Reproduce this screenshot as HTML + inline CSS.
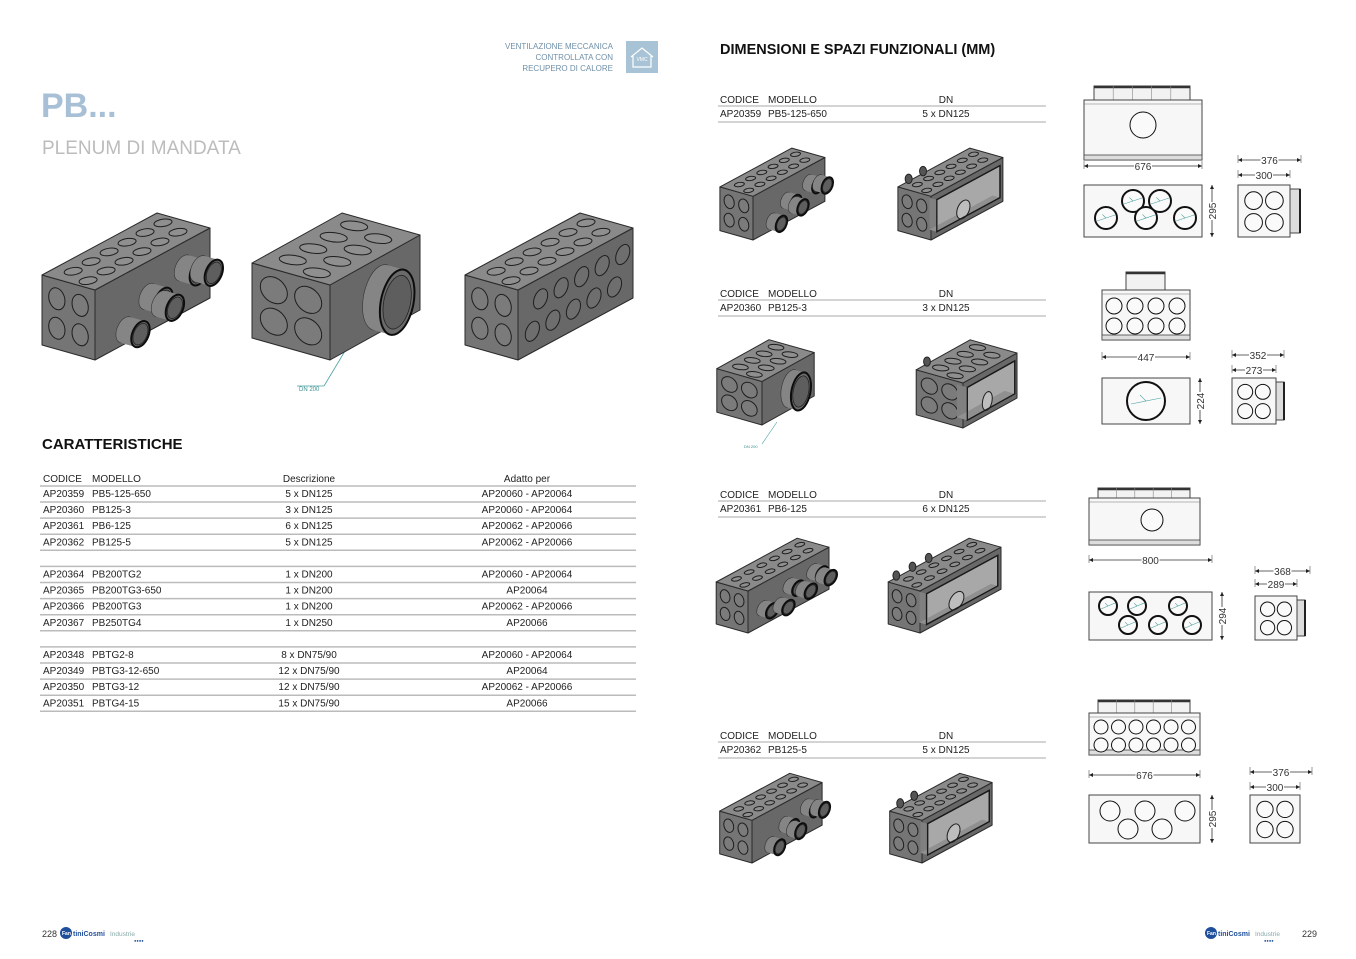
<!DOCTYPE html>
<html><head><meta charset="utf-8">
<style>
html,body{margin:0;padding:0;background:#fff;}
svg{display:block;font-family:"Liberation Sans",Arial,sans-serif;}
</style></head>
<body>
<svg id="s" xmlns="http://www.w3.org/2000/svg" width="1356" height="959" viewBox="0 0 1356 959">
<rect width="1356" height="959" fill="#fff"/>
<g fill="#6f90a8" font-size="8" text-anchor="end">
<text x="613" y="49">VENTILAZIONE  MECCANICA</text>
<text x="613" y="60">CONTROLLATA CON</text>
<text x="613" y="71">RECUPERO DI CALORE</text>
</g>
<rect x="626" y="41" width="32" height="32" fill="#a9c3d6"/>
<path d="M631 57 L642 48 L653 57 M633 56 V67 H651 V56" fill="none" stroke="#fff" stroke-width="1.2"/>
<text x="642" y="61" font-size="5" fill="#fff" text-anchor="middle">VMC</text>
<text x="41" y="117" font-size="34" font-weight="bold" fill="#a8c0d6">PB...</text>
<text x="42" y="154" font-size="19" fill="#bcbcbc">PLENUM DI MANDATA</text>
<text x="42" y="449" font-size="15" font-weight="bold" fill="#111">CARATTERISTICHE</text>
<text x="720" y="54" font-size="14.5" font-weight="bold" fill="#111">DIMENSIONI E SPAZI FUNZIONALI (MM)</text>
<line x1="348" y1="346" x2="324" y2="386" stroke="#4aa0a0" stroke-width="0.8"/>
<line x1="297" y1="386" x2="324" y2="386" stroke="#4aa0a0" stroke-width="0.8"/>
<text x="299" y="391" font-size="6" fill="#3a8f8f">DN 200</text>
<line x1="777" y1="422" x2="762" y2="444" stroke="#4aa0a0" stroke-width="0.6"/>
<text x="744" y="448" font-size="4" fill="#3a8f8f">DN 200</text>
<g id="tables" font-size="10" fill="#222"></g>
<g id="boxes"></g>
<g id="draw"></g>
<text x="42" y="937" font-size="9" fill="#333">228</text>
<text x="1302" y="937" font-size="9" fill="#333">229</text>
<g>
<circle cx="66" cy="933" r="6" fill="#1f4f9a"/><text x="62" y="935" font-size="5" fill="#fff" font-weight="bold">Fan</text>
<text x="73" y="936" font-size="7" font-weight="bold" fill="#1f4f9a">tiniCosmi</text><text x="110" y="936" font-size="6.5" fill="#8aa">Industrie</text>
<text x="134" y="942" font-size="4" fill="#1f4f9a">●●●●</text>
<circle cx="1211" cy="933" r="6" fill="#1f4f9a"/><text x="1207" y="935" font-size="5" fill="#fff" font-weight="bold">Fan</text>
<text x="1218" y="936" font-size="7" font-weight="bold" fill="#1f4f9a">tiniCosmi</text><text x="1255" y="936" font-size="6.5" fill="#8aa">Industrie</text>
<text x="1264" y="942" font-size="4" fill="#1f4f9a">●●●●</text>
</g>
</svg>
<script>
const NS="http://www.w3.org/2000/svg";
function el(p,t,a,txt){const e=document.createElementNS(NS,t);for(const k in a)e.setAttribute(k,a[k]);if(txt!==undefined)e.textContent=txt;p.appendChild(e);return e;}
const T=document.getElementById('tables');
function txt(x,y,s,anchor){el(T,'text',{x:x,y:y,'text-anchor':anchor||'start'},s);}
txt(43,482,'CODICE');txt(92,482,'MODELLO');txt(309,482,'Descrizione','middle');txt(527,482,'Adatto per','middle');
const rows=[["AP20359","PB5-125-650","5 x DN125","AP20060 - AP20064"],["AP20360","PB125-3","3 x DN125","AP20060 - AP20064"],["AP20361","PB6-125","6 x DN125","AP20062 - AP20066"],["AP20362","PB125-5","5 x DN125","AP20062 - AP20066"],null,
["AP20364","PB200TG2","1 x DN200","AP20060 - AP20064"],["AP20365","PB200TG3-650","1 x DN200","AP20064"],["AP20366","PB200TG3","1 x DN200","AP20062 - AP20066"],["AP20367","PB250TG4","1 x DN250","AP20066"],null,
["AP20348","PBTG2-8","8 x DN75/90","AP20060 - AP20064"],["AP20349","PBTG3-12-650","12 x DN75/90","AP20064"],["AP20350","PBTG3-12","12 x DN75/90","AP20062 - AP20066"],["AP20351","PBTG4-15","15 x DN75/90","AP20066"]];
el(T,'line',{x1:40,x2:636,y1:486,y2:486,stroke:'#bbb','stroke-width':1.5});
rows.forEach((r,i)=>{const y=497+i*16.1;
 if(r){txt(43,y,r[0]);txt(92,y,r[1]);txt(309,y,r[2],'middle');txt(527,y,r[3],'middle');}
 el(T,'line',{x1:40,x2:636,y1:y+5,y2:y+5,stroke:'#bbb','stroke-width':1.5});});
[[99,"AP20359","PB5-125-650","5 x DN125"],[293,"AP20360","PB125-3","3 x DN125"],[494,"AP20361","PB6-125","6 x DN125"],[735,"AP20362","PB125-5","5 x DN125"]].forEach(r=>{
 const y=r[0]+4;txt(720,y,'CODICE');txt(768,y,'MODELLO');txt(946,y,'DN','middle');
 el(T,'line',{x1:718,x2:1046,y1:y+3,y2:y+3,stroke:'#bbb','stroke-width':1.3});
 txt(720,y+14,r[1]);txt(768,y+14,r[2]);txt(946,y+14,r[3],'middle');
 el(T,'line',{x1:718,x2:1046,y1:y+19,y2:y+19,stroke:'#bbb','stroke-width':1.3});
});
const B=document.getElementById('boxes');
const A=(a,b)=>[a[0]+b[0],a[1]+b[1]], Sc=(a,k)=>[a[0]*k,a[1]*k];
const P=a=>a.map(p=>p[0].toFixed(1)+','+p[1].toFixed(1)).join(' ');
function M(o,a,b,LA,LB){return `matrix(${a[0]/LA},${a[1]/LA},${b[0]/LB},${b[1]/LB},${o[0]},${o[1]})`;}
function hole(g,m,x,y,r,fill){el(g,'circle',{cx:x,cy:y,r:r,transform:m,fill:fill,stroke:'#1e1e1e','stroke-width':1,'vector-effect':'non-scaling-stroke'});}
function box(P0,u,v,h,o){
 const L=650,W=300,H=300,g=el(B,'g',{});
 const stk={stroke:'#2a2a2a','stroke-width':1,'stroke-linejoin':'round'};
 const Pu=A(P0,u),Pv=A(P0,v),Ph=A(P0,h);
 el(g,'polygon',Object.assign({points:P([P0,Pu,A(Pu,h),Ph]),fill:'#686868'},stk));
 el(g,'polygon',Object.assign({points:P([P0,Pv,A(Pv,h),Ph]),fill:'#757575'},stk));
 el(g,'polygon',Object.assign({points:P([Ph,A(Ph,u),A(A(Ph,u),v),A(Ph,v)]),fill:'#8a8a8a'},stk));
 const mL=M(P0,u,h,L,H), mS=M(P0,v,h,W,H), mT=M(Ph,u,v,L,W);
 const nt=o.nt||6, rt=o.rt||32;
 for(let r=0;r<2;r++)for(let i=0;i<nt;i++)hole(g,mT,L*(i+0.5+(r?0.35:0))/(nt+0.4),W*(r?0.7:0.3),rt,'#8f8f8f');
 const rs=o.rs||46;
 [[0.28,0.3],[0.72,0.3],[0.28,0.72],[0.72,0.72]].forEach(p=>hole(g,mS,W*p[0],H*p[1],rs,'#7b7b7b'));
 if(o.longHoles){const n=o.longHoles;for(let r=0;r<2;r++)for(let i=0;i<n;i++)hole(g,mL,L*(i+0.7+(r?0.4:0))/(n+0.6),H*(r?0.7:0.3),40,'#6e6e6e');}
 if(o.open){
  const pp=[[0.08,0.12],[0.96,0.12],[0.96,0.85],[0.08,0.85]].map(q=>A(A(P0,Sc(u,q[0])),Sc(h,q[1])));
  el(g,'polygon',{points:P(pp),fill:'#a8a8a8',stroke:'#1a1a1a','stroke-width':1.3});
  el(g,'polygon',{points:P([pp[0],A(pp[0],Sc(v,0.22)),A(pp[3],Sc(v,0.22)),pp[3]]),fill:'#808080'});
  el(g,'polygon',{points:P([pp[0],pp[1],A(pp[1],Sc(v,0.22)),A(pp[0],Sc(v,0.22))]),fill:'#909090'});
  hole(g,mL,L*0.45,H*0.3,60,'#bdbdbd');
  el(g,'polygon',{points:P(pp),fill:'none',stroke:'#1a1a1a','stroke-width':1.3});
  (o.bumps||[]).forEach(x=>{const c=A(A(A(P0,v),Sc(u,x)),Sc(h,1.05));el(g,'ellipse',{cx:c[0],cy:c[1],rx:4*o.k+1,ry:6*o.k+1,fill:'#555',stroke:'#222','stroke-width':1});});
 }
 const vn=Math.hypot(v[0],v[1]), dir=[-v[0]/vn,-v[1]/vn];
 (o.sp||[]).forEach(s=>{const [x,y,r,d]=s;
  for(let k=0;k<=10;k++){const off=Sc(dir,d*k/10);
   el(g,'circle',{cx:x,cy:y,r:r,transform:M(A(P0,off),u,h,L,H),fill:'#858585',stroke:k==0?'#333':'none','stroke-width':0.6,'vector-effect':'non-scaling-stroke'});}
  const m=M(A(P0,Sc(dir,d)),u,h,L,H);
  el(g,'circle',{cx:x,cy:y,r:r,transform:m,fill:'#6a6a6a',stroke:'#0d0d0d','stroke-width':2,'vector-effect':'non-scaling-stroke'});
  el(g,'circle',{cx:x,cy:y,r:r*0.82,transform:m,fill:'#5e5e5e',stroke:'#222','stroke-width':0.8,'vector-effect':'non-scaling-stroke'});
 });
}
const u1=[115,-62],v1=[-53,-15],h1=[0,-70];
const sp5b=k=>[[170,60,52,16*k],[300,150,52,16*k],[370,90,52,15*k],[500,190,52,16*k],[590,150,52,15*k]];
const sp6=k=>[[120,120,50,16*k],[250,80,50,16*k],[330,180,50,16*k],[430,110,50,16*k],[520,190,50,16*k],[590,130,50,16*k]];
const sc=(vv,k)=>Sc(vv,k);
box([95,360],u1,v1,h1,{sp:sp5b(1),nt:6,rt:36});
box([330,360],[90,-50],[-78,-22],[0,-75],{nt:4,rt:46,rs:52,sp:[[360,140,125,18]]});
box([518,360],u1,v1,h1,{nt:6,rt:36,longHoles:5});
const k1=0.625;
box([753,240],sc(u1,k1),sc(v1,k1),sc(h1,k1),{sp:sp5b(k1),nt:6});
box([931,240],sc(u1,k1),sc(v1,k1),sc(h1,k1),{nt:6,open:true,bumps:[0.15,0.35],k:k1});
const k2=0.58;
box([762,425],sc([90,-50],k2),sc([-78,-22],k2),sc([0,-75],k2),{nt:4,rt:46,rs:52,sp:[[360,140,125,18*k2]]});
box([963,428],sc([90,-50],0.6),sc([-78,-22],0.6),sc([0,-75],0.6),{nt:4,rt:46,rs:52,open:true,bumps:[0.2],k:0.6});
const u3=[135,-73],k3=0.6;
box([748,633],sc(u3,k3),sc(v1,k3),sc(h1,k3),{sp:sp6(k3),nt:6,rt:30});
box([920,633],sc(u3,k3),sc(v1,k3),sc(h1,k3),{nt:6,rt:30,open:true,bumps:[0.1,0.3,0.5],k:k3});
const k4=0.61;
box([752,863],sc(u1,k4),sc(v1,k4),sc(h1,k4),{sp:sp5b(k4),nt:6});
box([922,863],sc(u1,k4),sc(v1,k4),sc(h1,k4),{nt:6,open:true,bumps:[0.15,0.35],k:k4});
const D=document.getElementById('draw');
function R(x,y,w,h,f){el(D,'rect',{x:x,y:y,width:w,height:h,fill:f||'#f7f7f7',stroke:'#444','stroke-width':1});}
function C(x,y,r,w){el(D,'circle',{cx:x,cy:y,r:r,fill:'#fafafa',stroke:'#111','stroke-width':w||1});}
function arrow(x,y,dx,dy){const a=4,b=2;el(D,'polygon',{points:P([[x,y],[x+dx*a-dy*b,y+dy*a+dx*b],[x+dx*a+dy*b,y+dy*a-dx*b]]),fill:'#222'});}
function hd(x1,x2,y,l){el(D,'line',{x1:x1,x2:x2,y1:y,y2:y,stroke:'#333','stroke-width':0.8});arrow(x1,y,1,0);arrow(x2,y,-1,0);
 el(D,'line',{x1:x1,x2:x1,y1:y-5,y2:y+3,stroke:'#555','stroke-width':0.6});el(D,'line',{x1:x2,x2:x2,y1:y-5,y2:y+3,stroke:'#555','stroke-width':0.6});
 const m=(x1+x2)/2;el(D,'rect',{x:m-9,y:y-5,width:18,height:10,fill:'#fff'});el(D,'text',{x:m,y:y+4,'font-size':10,'text-anchor':'middle',fill:'#333'},l);}
function vd(x,y1,y2,l){el(D,'line',{x1:x,x2:x,y1:y1,y2:y2,stroke:'#333','stroke-width':0.8});arrow(x,y1,0,1);arrow(x,y2,0,-1);
 const m=(y1+y2)/2;el(D,'rect',{x:x-5,y:m-9,width:10,height:18,fill:'#fff'});el(D,'text',{x:x+4,y:m,'font-size':10,'text-anchor':'middle',fill:'#333',transform:`rotate(-90 ${x+4} ${m})`},l);}
function tab(x,y,w,h,n){R(x,y,w,h,'#f2f2f2');el(D,'line',{x1:x,x2:x+w,y1:y+1,y2:y+1,stroke:'#333','stroke-width':2.5});for(let i=1;i<n;i++)el(D,'line',{x1:x+w*i/n,x2:x+w*i/n,y1:y,y2:y+h,stroke:'#888','stroke-width':0.6});}
function topv(x,y,w,h){R(x,y,w,h);el(D,'line',{x1:x,x2:x+w,y1:y+4,y2:y+4,stroke:'#777','stroke-width':0.6});
 el(D,'rect',{x:x,y:y+h-5,width:w,height:5,fill:'#ddd',stroke:'#444','stroke-width':0.8});}
function side(x,y,w,h,tx,th){R(x,y,w,h);if(tx){R(x+w,y+th,tx,h-2*th,'#ddd');el(D,'line',{x1:x+w+tx,x2:x+w+tx,y1:y+th,y2:y+h-th,stroke:'#222','stroke-width':2});}
 const r=Math.min(w,h)*0.17;[[0.3,0.3],[0.7,0.3],[0.3,0.72],[0.7,0.72]].forEach(p=>C(x+w*p[0],y+h*p[1],r));}
function teal(x,y,r){el(D,'line',{x1:x-r,x2:x+r,y1:y+3,y2:y-3,stroke:'#4aa0a0','stroke-width':0.6});el(D,'line',{x1:x-r*0.4,x2:x,y1:y-r*0.4,y2:y,stroke:'#4aa0a0','stroke-width':0.6});}
tab(1094,86,96,14,5);topv(1084,100,118,60);C(1143,125,13);
hd(1084,1202,166,'676');
R(1084,185,118,52);
[[1106,218],[1133,201],[1146,218],[1160,201],[1185,218]].forEach(p=>{C(p[0],p[1],11,2);teal(p[0],p[1],9);});
vd(1212,185,237,'295');
side(1238,185,52,52,10,4);hd(1238,1301,160,'376');hd(1238,1290,175,'300');
tab(1126,272,39,18,1);topv(1102,290,88,50);
[0,1,2,3].forEach(i=>{C(1114+i*21,306,8);C(1114+i*21,326,8);});
hd(1102,1190,357,'447');
R(1102,378,88,46);C(1146,401,19,2);teal(1146,401,15);
vd(1200,378,424,'224');
side(1232,378,44,46,8,4);hd(1232,1284,355,'352');hd(1232,1276,370,'273');
tab(1098,488,92,10,5);topv(1089,498,111,47);C(1152,520,11);
hd(1089,1212,560,'800');
R(1089,592,123,48);[[1108,606],[1137,606],[1178,606],[1128,625],[1158,625],[1192,625]].forEach(p=>{C(p[0],p[1],9,2);teal(p[0],p[1],7);});
vd(1222,592,640,'294');
side(1255,596,42,44,8,4);hd(1255,1310,571,'368');hd(1255,1297,584,'289');
tab(1098,700,92,13,5);topv(1089,713,111,42);
for(let i=0;i<6;i++){C(1101+i*17.5,727,7);C(1101+i*17.5,745,7);}
hd(1089,1200,775,'676');
R(1089,795,111,48);[[1110,811],[1145,811],[1128,829],[1162,829],[1185,811]].forEach(p=>C(p[0],p[1],10));
vd(1212,795,843,'295');
side(1250,795,50,48,0,0);hd(1250,1312,772,'376');hd(1250,1300,787,'300');
</script>
</body></html>
